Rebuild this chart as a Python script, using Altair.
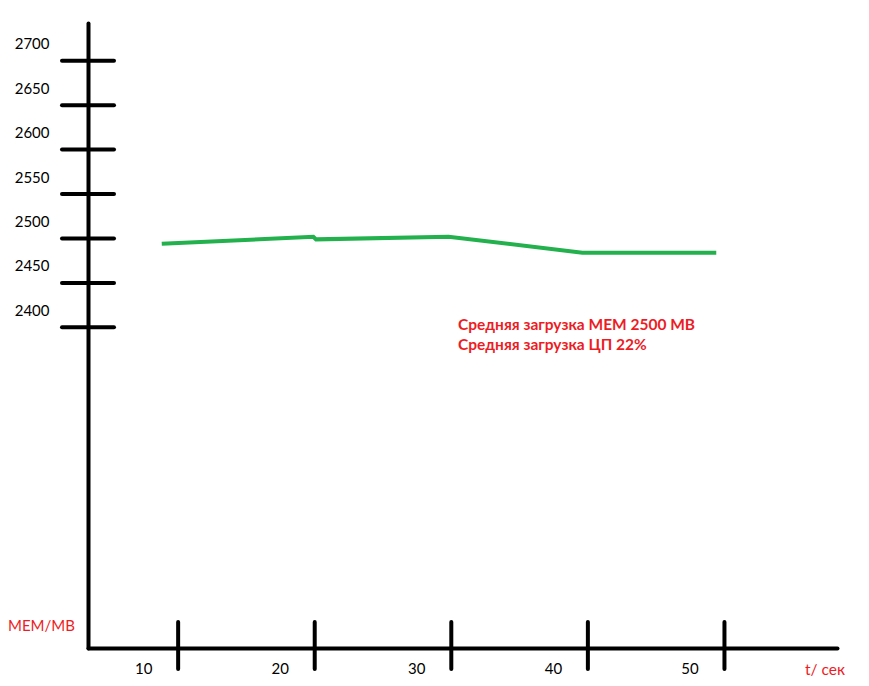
import altair as alt
import pandas as pd

# data
time_s = [8.8, 19.9, 20.1, 29.8, 39.6, 49.4]
mem_mb = [2494, 2502, 2499, 2502, 2484, 2484]

y_ticks = [2400, 2450, 2500, 2550, 2600, 2650, 2700]
x_ticks = [10, 20, 30, 40, 50]

note_lines = ["Средняя загрузка MEM 2500 MB", "Средняя загрузка ЦП 22%"]
y_title = "MEM/MB"
x_title = "t/ сек"

W, H = 749, 625
RED = "#ED1C24"
GREEN = "#22B14C"
FONT = "Lato"

line_df = pd.DataFrame({"t": time_s, "mem": mem_mb})
ytick_df = pd.DataFrame({"mem": y_ticks})
xtick_df = pd.DataFrame({"t": x_ticks})

x_scale = alt.Scale(domain=[3.4, 58.24], nice=False, zero=False)
y_scale = alt.Scale(domain=[2039.3, 2742.4], nice=False, zero=False)

x_axis = alt.Axis(
    values=x_ticks, format="d", title=None, grid=False, ticks=False, tickSize=0,
    domainColor="black", domainWidth=4, domainCap="round",
    labelFont=FONT, labelFontSize=15, labelColor="black",
    labelPadding=13, labelOffset=-35,
)
y_axis = alt.Axis(
    values=y_ticks, format="d", title=None, grid=False, ticks=False, tickSize=0,
    domainColor="black", domainWidth=4, domainCap="round",
    labelFont=FONT, labelFontSize=15, labelColor="black",
    labelPadding=39, labelOffset=-17,
)

X = alt.X("t:Q", scale=x_scale, axis=x_axis)
Y = alt.Y("mem:Q", scale=y_scale, axis=y_axis)

line = alt.Chart(line_df).mark_line(color=GREEN, strokeWidth=4).encode(x=X, y=Y)

yticks = alt.Chart(ytick_df).mark_rule(color="black", strokeWidth=4, strokeCap="round").encode(
    y=Y, x=alt.value(-26), x2=alt.value(26)
)
xticks = alt.Chart(xtick_df).mark_rule(color="black", strokeWidth=4, strokeCap="round").encode(
    x=X, y=alt.value(599), y2=alt.value(646)
)

note_style = dict(font=FONT, fontSize=15.5, fontWeight="bold", color=RED, align="left", baseline="middle")
note1 = alt.Chart(pd.DataFrame({"s": [note_lines[0]]})).mark_text(**note_style).encode(
    text="s:N", x=alt.value(370), y=alt.value(302)
)
note2 = alt.Chart(pd.DataFrame({"s": [note_lines[1]]})).mark_text(**note_style).encode(
    text="s:N", x=alt.value(370), y=alt.value(322)
)

ytitle = alt.Chart(pd.DataFrame({"s": [y_title]})).mark_text(
    font=FONT, fontSize=15, color=RED, align="left", baseline="middle"
).encode(text="s:N", x=alt.value(-80), y=alt.value(603))
xtitle = alt.Chart(pd.DataFrame({"s": [x_title]})).mark_text(
    font=FONT, fontSize=15.5, color=RED, align="left", baseline="middle"
).encode(text="s:N", x=alt.value(717), y=alt.value(647))

chart = alt.layer(xticks, yticks, line, note1, note2, ytitle, xtitle).properties(
    width=W, height=H,
    autosize=alt.AutoSizeParams(type="none"),
    padding={"left": 80, "top": 15, "right": 20, "bottom": 30},
    background="white",
).configure_view(stroke=None)

chart.save("out.html", embed_options={"renderer": "svg", "actions": False})
